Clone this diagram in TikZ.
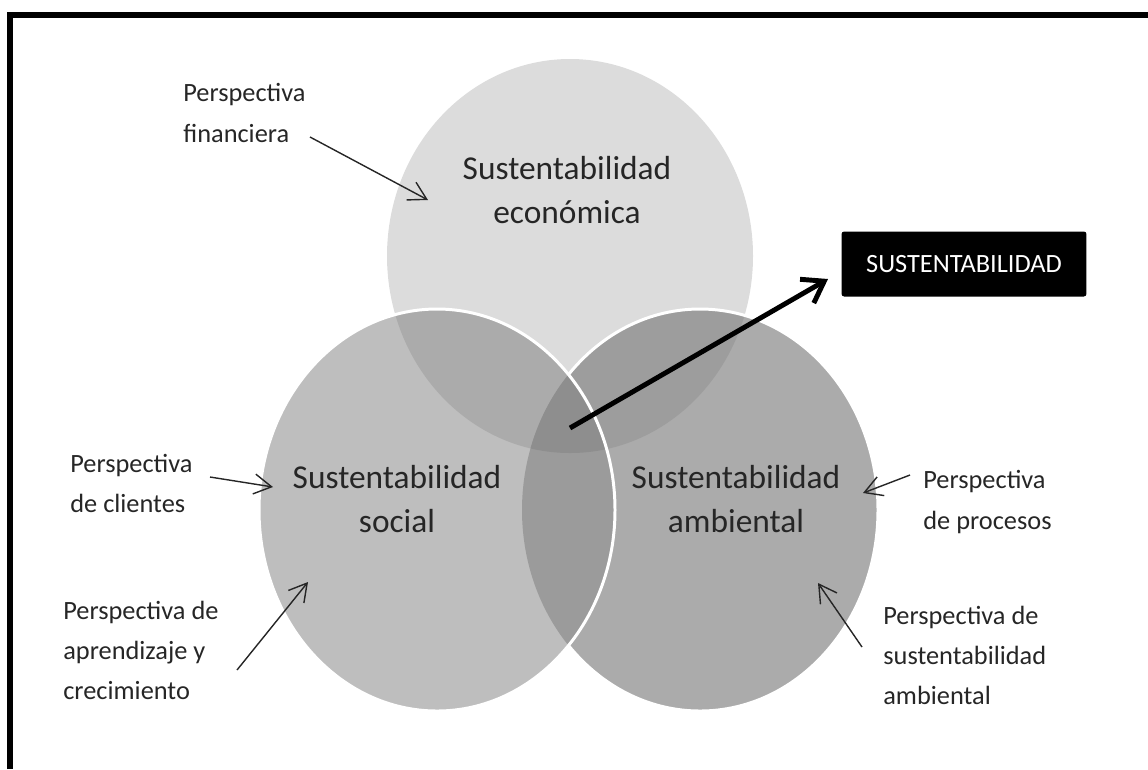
\documentclass[tikz,border=0pt]{standalone}
\usepackage{fontspec}
\setmainfont{Carlito}
\usetikzlibrary{arrows.meta, positioning}

\definecolor{ecoFill}{HTML}{DCDCDC}
\definecolor{socFill}{HTML}{BEBEBE}
\definecolor{ambFill}{HTML}{ABABAB}
\definecolor{ecoSocFill}{HTML}{ABABAB}
\definecolor{ecoAmbFill}{HTML}{9D9D9D}
\definecolor{socAmbFill}{HTML}{9B9B9B}
\definecolor{coreFill}{HTML}{8E8E8E}

\tikzset{
  ring/.style={draw=white, line width=1.7pt},
  bigtext/.style={font=\fontsize{19}{24.5}\selectfont, align=center,
    text=black!85, inner sep=0pt},
  plabel/.style={font=\fontsize{15}{22.8}\selectfont, align=left,
    text=black!85, inner sep=0pt, anchor=west},
  keybox/.style={rectangle, fill=black, rounded corners=1.5pt,
    minimum width=4.9cm, minimum height=1.3cm,
    text=white, font=\fontsize{15}{18}\selectfont},
  flow/.style={-{Straight Barb[length=3.5mm, width=4mm]}, line width=0.8pt, black!85},
  mainflow/.style={-{Straight Barb[length=4mm, width=5.5mm]}, line width=2.8pt}
}

\begin{document}
\begin{tikzpicture}[x=0.02cm, y=-0.02cm]
\useasboundingbox (0,0) rectangle (1148,769);

%% frame
\draw[line width=2.9pt] (10,769) -- (10,15) -- (1148,15);

%% the three rings
\def\ecoshape{(570,256) ellipse [x radius=183, y radius=197]}
\def\socshape{(437,510) ellipse [x radius=178, y radius=201]}
\def\ambshape{(700,510) ellipse [x radius=178, y radius=201]}

\fill[ecoFill] \ecoshape;

\fill[ambFill] \ambshape;
\begin{scope}
  \clip \ambshape;
  \fill[ecoAmbFill] \ecoshape;
\end{scope}
\path[ring] \ambshape;

\fill[socFill] \socshape;
\begin{scope}
  \clip \socshape;
  \fill[ecoSocFill] \ecoshape;
  \fill[socAmbFill] \ambshape;
  \clip \ambshape;
  \fill[coreFill] \ecoshape;
\end{scope}
\path[ring] \socshape;

%% ring titles
\node[bigtext] (eco) at (567,190) {Sustentabilidad\\econ\'omica};
\node[bigtext] (soc) at (397,499) {Sustentabilidad\\social};
\node[bigtext] (amb) at (736,499) {Sustentabilidad\\ambiental};

%% perspectives
\node[plabel] (fin) at (183,113) {Perspectiva\\financiera};
\node[plabel] (cli) at (70,483)  {Perspectiva\\de clientes};
\node[plabel] (apr) at (63,650)  {Perspectiva de\\aprendizaje y\\crecimiento};
\node[plabel] (pro) at (923,502) {Perspectiva\\de procesos};
\node[plabel] (sam) at (883,655) {Perspectiva de\\sustentabilidad\\ambiental};

\node[keybox] (key) at (964,264) {SUSTENTABILIDAD};

%% arrow ends
\coordinate (finA) at (310,137);  \coordinate (finB) at (428,200);
\coordinate (cliA) at (210,477);  \coordinate (cliB) at (273,487);
\coordinate (aprA) at (237,670);  \coordinate (aprB) at (308,582);
\coordinate (proA) at (910,475);  \coordinate (proB) at (863,493);
\coordinate (samA) at (862,647);  \coordinate (samB) at (818,583);
\coordinate (core) at (570,428);  \coordinate (keyB) at (828,279);

\draw[flow] (finA) -- (finB);
\draw[flow] (cliA) -- (cliB);
\draw[flow] (aprA) -- (aprB);
\draw[flow] (proA) -- (proB);
\draw[flow] (samA) -- (samB);

\draw[mainflow] (core) -- (keyB);

\end{tikzpicture}
\end{document}
